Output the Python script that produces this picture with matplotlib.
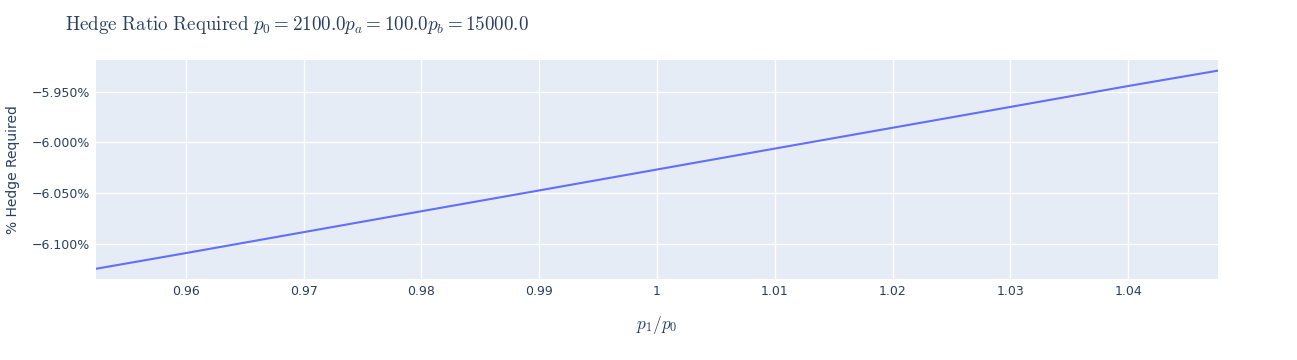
import matplotlib
matplotlib.use("Agg")
import matplotlib.pyplot as plt
from matplotlib.ticker import FuncFormatter, FixedLocator

# price ratio p1/p0 and hedge required (%)
price_ratio = [0.9524, 0.96, 0.97, 0.98, 0.99, 1.00, 1.01, 1.02, 1.03, 1.04, 1.0476]
hedge_pct = [-6.1243, -6.1089, -6.0883, -6.0677, -6.0472, -6.0266,
             -6.0060, -5.9855, -5.9650, -5.9444, -5.9293]

x_ticks = [0.96, 0.97, 0.98, 0.99, 1.00, 1.01, 1.02, 1.03, 1.04]
y_ticks = [-6.10, -6.05, -6.00, -5.95]

text_color = "#2a3f5f"
plt.rcParams["font.family"] = ["DejaVu Sans"]
plt.rcParams["mathtext.fontset"] = "cm"

fig = plt.figure(figsize=(12.97, 3.6), dpi=100)
ax = fig.add_axes([96 / 1297, 81 / 360, 1122 / 1297, 219 / 360])
ax.set_facecolor("#E5ECF6")

ax.plot(price_ratio, hedge_pct, color="#636EFA", linewidth=1.5)

ax.set_xlim(0.95238, 1.04762)
ax.set_ylim(-6.1344, -5.9188)
ax.xaxis.set_major_locator(FixedLocator(x_ticks))
ax.yaxis.set_major_locator(FixedLocator(y_ticks))
ax.xaxis.set_major_formatter(FuncFormatter(lambda v, p: f"{v:g}"))
ax.yaxis.set_major_formatter(
    FuncFormatter(lambda v, p: f"{v:.3f}%".replace("-", "\u2212")))

ax.grid(True, color="white", linewidth=1)
ax.set_axisbelow(True)
for s in ax.spines.values():
    s.set_visible(False)
ax.tick_params(length=0, labelsize=9, labelcolor=text_color, pad=4)

ax.set_xlabel(r"$p_1/p_0$", fontsize=12.5, color=text_color, labelpad=12)
ax.set_ylabel("% Hedge Required", fontsize=10, color=text_color, labelpad=9)

fig.text(65 / 1297, 1 - 25 / 360,
         r"$\mathrm{Hedge\ Ratio\ Required}\ p_0 = 2100.0p_a = 100.0p_b = 15000.0$",
         fontsize=13.7, color=text_color, va="center", ha="left")

fig.savefig("out.png", dpi=100, facecolor="white")
